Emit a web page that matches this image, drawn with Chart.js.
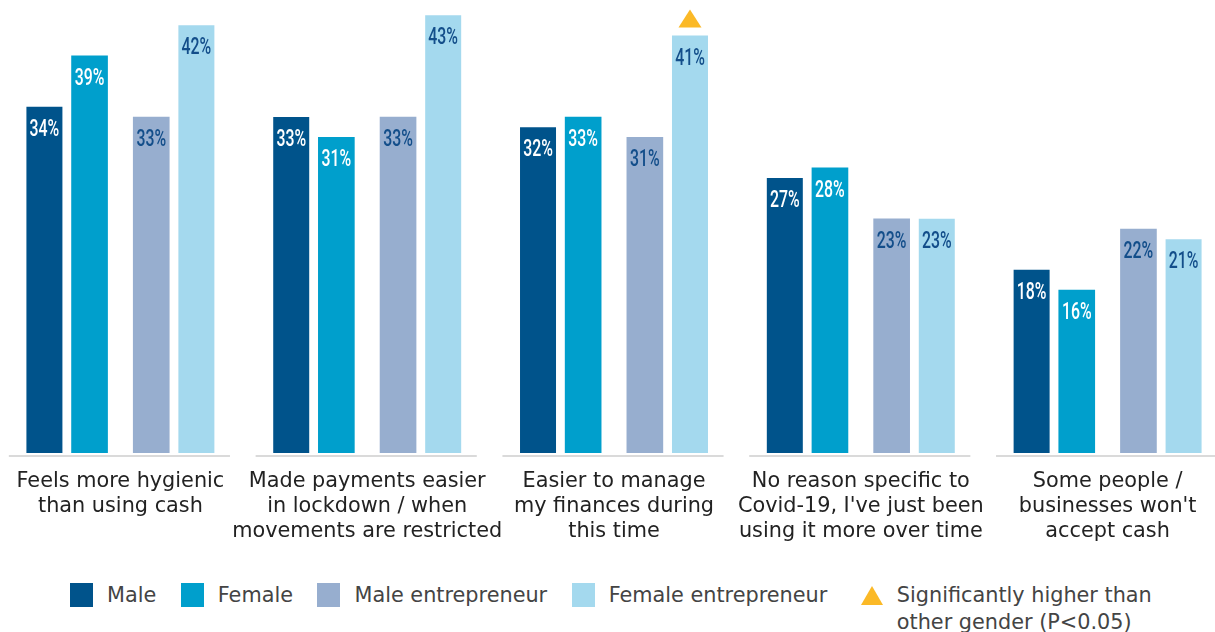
<!DOCTYPE html>
<html>
<head>
<meta charset="utf-8">
<script src="https://cdn.jsdelivr.net/npm/chart.js@4.4.1/dist/chart.umd.min.js"></script>
<style>
    html, body { margin: 0; padding: 0; background: #fff; overflow: hidden; }
    body { width: 1215px; height: 632px; position: relative; font-family: "DejaVu Sans", sans-serif; }
    #wrap { position: absolute; left: -3px; top: 0; width: 1234px; height: 570px; }
    #legend { position: absolute; left: 70px; top: 582px; display: flex; align-items: flex-start; font-size: 20.8px; color: #444; line-height: 27px; }
    .item { display: flex; align-items: flex-start; margin-right: 24.5px; }
    .box { width: 23px; height: 24px; margin-right: 14px; margin-top: 1px; flex: none; }
    .tri { width: 0; height: 0; border-left: 11px solid transparent; border-right: 11px solid transparent; border-bottom: 19px solid #fbb927; margin-left: 9px; margin-right: 14px; margin-top: 4px; flex: none; }
</style>
</head>
<body>
<div id="wrap"><canvas id="chart"></canvas></div>
<div id="legend"></div>

<script>
const categories = [
    ["Feels more hygienic", "than using cash"],
    ["Made payments easier", "in lockdown / when", "movements are restricted"],
    ["Easier to manage", "my finances during", "this time"],
    ["No reason specific to", "Covid-19, I've just been", "using it more over time"],
    ["Some people /", "businesses won't", "accept cash"],
];
const seriesNames = ["Male", "Female", "Male entrepreneur", "Female entrepreneur"];
const male = [34, 33, 32, 27, 18];
const female = [39, 31, 33, 28, 16];
const maleEntrepreneur = [33, 33, 31, 23, 22];
const femaleEntrepreneur = [42, 43, 41, 23, 21];
// significantly higher than other gender (P<0.05), female entrepreneur only
const femaleEntSignificant = [false, false, true, false, false];

const colors = ["#00538b", "#009fcc", "#97aecf", "#a4d9ee"];
const labelColors = ["#ffffff", "#ffffff", "#134e8a", "#134e8a"];
const sigColor = "#fbb927";
const sigNote = ["Significantly higher than", "other gender (P<0.05)"];

// outer bars sit closer to the centre of the group than the inner ones
const catPct = [0.821, 1.0, 1.0, 0.821];

const decor = {
    id: "decor",
    beforeDatasetsDraw(chart) {
        const { ctx, chartArea } = chart;
        const x = chart.scales.x;
        const half = (x.width / categories.length) * 0.448;
        ctx.save();
        ctx.strokeStyle = "#dadada";
        ctx.lineWidth = 2;
        categories.forEach((c, i) => {
            const cx = x.getPixelForValue(i) - 1;
            ctx.beginPath();
            ctx.moveTo(cx - half, chartArea.bottom + 3);
            ctx.lineTo(cx + half, chartArea.bottom + 3);
            ctx.stroke();
        });
        ctx.restore();
    },
    afterDatasetsDraw(chart) {
        const ctx = chart.ctx;
        chart.data.datasets.forEach((ds, di) => {
            chart.getDatasetMeta(di).data.forEach((bar, i) => {
                ctx.save();
                ctx.translate(bar.x, bar.y + 23);
                ctx.scale(0.66, 1);
                ctx.font = "500 24px Roboto";
                ctx.textAlign = "center";
                ctx.textBaseline = "middle";
                ctx.fillStyle = labelColors[di];
                ctx.fillText(ds.data[i] + "%", 0, 0);
                ctx.restore();
            });
        });
        // triangles above the significant bars
        const meta = chart.getDatasetMeta(3);
        femaleEntSignificant.forEach((sig, i) => {
            if (!sig) return;
            const bar = meta.data[i];
            const bottom = bar.y - 8;
            ctx.save();
            ctx.fillStyle = sigColor;
            ctx.beginPath();
            ctx.moveTo(bar.x - 11.5, bottom);
            ctx.lineTo(bar.x + 11.5, bottom);
            ctx.lineTo(bar.x, bottom - 18);
            ctx.closePath();
            ctx.fill();
            ctx.restore();
        });
    },
};

const values = [male, female, maleEntrepreneur, femaleEntrepreneur];

new Chart(document.getElementById("chart"), {
    type: "bar",
    data: {
        labels: categories,
        datasets: values.map((v, i) => ({
            label: seriesNames[i],
            data: v,
            backgroundColor: colors[i],
            categoryPercentage: catPct[i],
            barPercentage: 1,
            maxBarThickness: 36,
        })),
    },
    options: {
        responsive: true,
        maintainAspectRatio: false,
        animation: false,
        layout: { padding: { top: 5 } },
        plugins: { legend: { display: false }, tooltip: { enabled: false } },
        scales: {
            x: {
                grid: { display: false, drawTicks: false, tickLength: 0 },
                border: { display: false },
                ticks: {
                    color: "#222",
                    font: { family: "DejaVu Sans", size: 20.8, lineHeight: "25px" },
                    padding: 16,
                    maxRotation: 0,
                    autoSkip: false,
                },
                afterFit(scale) { scale.height = 117; },
            },
            y: { display: false, min: 0, max: 44 },
        },
    },
    plugins: [decor],
});

// legend
const legend = document.getElementById("legend");
seriesNames.forEach((name, i) => {
    const item = document.createElement("div");
    item.className = "item";
    item.innerHTML = `<div class="box" style="background:${colors[i]}"></div><div>${name}</div>`;
    legend.appendChild(item);
});
const sigItem = document.createElement("div");
sigItem.className = "item";
sigItem.innerHTML = `<div class="tri"></div><div>${sigNote.join("<br>")}</div>`;
legend.appendChild(sigItem);
</script>
</body>
</html>
